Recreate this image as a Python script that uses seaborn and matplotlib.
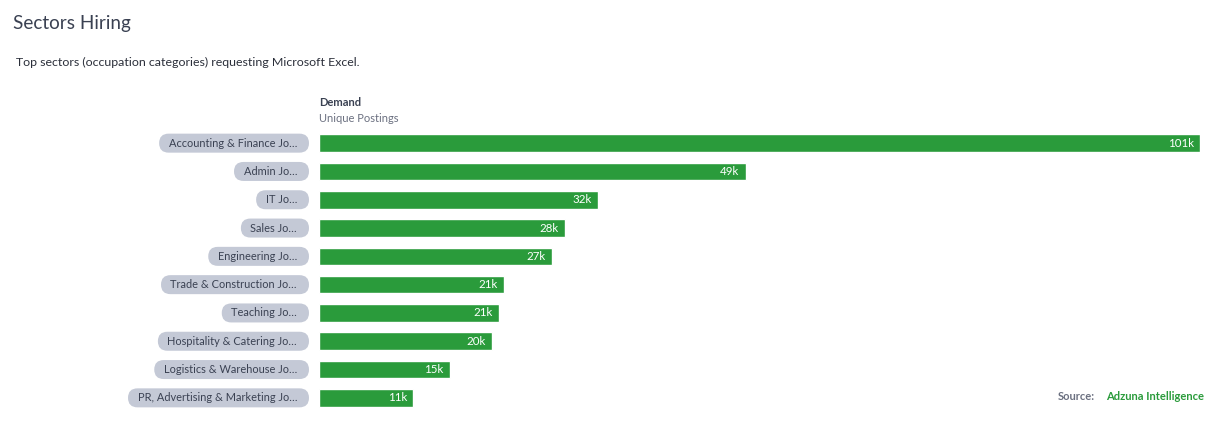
import numpy as np
import pandas as pd
import matplotlib
matplotlib.use('Agg')
import matplotlib.pyplot as plt
import matplotlib.transforms as mtransforms
from matplotlib.patches import FancyBboxPatch
import seaborn as sns

# Data (thousands of unique postings)
sectors = [
    'Accounting & Finance Jo\u2026',
    'Admin Jo\u2026',
    'IT Jo\u2026',
    'Sales Jo\u2026',
    'Engineering Jo\u2026',
    'Trade & Construction Jo\u2026',
    'Teaching Jo\u2026',
    'Hospitality & Catering Jo\u2026',
    'Logistics & Warehouse Jo\u2026',
    'PR, Advertising & Marketing Jo\u2026',
]
postings_k = [101.0, 48.9, 32.0, 28.2, 26.7, 21.2, 20.6, 19.8, 15.0, 10.8]
value_labels = ['101k', '49k', '32k', '28k', '27k', '21k', '21k', '20k', '15k', '11k']

df = pd.DataFrame({'sector': sectors, 'postings': postings_k})

GREEN = '#2a9b3b'
PILL = '#c4c9d6'
DARK = '#3a4152'
GREY = '#6b7080'

sns.set_style('white')
plt.rcParams['font.family'] = ['Lato', 'DejaVu Sans']

fig = plt.figure(figsize=(12.15, 4.3), dpi=100)
W, H = 1215, 430
ax = fig.add_axes([319 / W, 18 / H, (1200 - 319) / W, (301 - 18) / H])
ax.set_facecolor('none')

sns.barplot(data=df, x='postings', y='sector', orient='h', color=GREEN,
            width=0.62, saturation=1, ax=ax)
ax.set_xlim(0, 101)
ax.set_ylim(len(sectors) - 0.5, -0.5)
ax.set_xlabel('')
ax.set_ylabel('')
ax.set_xticks([])
ax.set_yticks([])
sns.despine(ax=ax, left=True, bottom=True)

# value labels inside bar ends
for i, (v, lab) in enumerate(zip(postings_k, value_labels)):
    ax.annotate(lab, (v, i), xytext=(-4.5, 0), textcoords='offset points',
                ha='right', va='center', color='white', fontsize=8.3)

# category pills left of the bars
shift = mtransforms.ScaledTranslation(-22 / 100, 0, fig.dpi_scale_trans)
label_tr = ax.get_yaxis_transform() + shift
texts = []
for i, name in enumerate(sectors):
    t = ax.text(0, i, name, transform=label_tr, ha='right', va='center',
                fontsize=7.9, color=DARK, clip_on=False, zorder=5)
    texts.append(t)

fig.canvas.draw()
renderer = fig.canvas.get_renderer()
for i, t in enumerate(texts):
    bb = t.get_window_extent(renderer)
    yc = ax.transData.transform((0, i))[1]
    x0, x1 = bb.x0 - 9.5, bb.x1 + 12
    h = 19
    pill = FancyBboxPatch((x0, yc - h / 2), x1 - x0, h,
                          boxstyle='round,pad=0,rounding_size=%f' % (h / 2),
                          transform=mtransforms.IdentityTransform(),
                          facecolor=PILL, edgecolor='none', zorder=-1)
    fig.add_artist(pill)

# headings
fig.text(13 / W, 1 - 24 / H, 'Sectors Hiring', fontsize=13.6, color=DARK,
         ha='left', va='center')
fig.text(16 / W, 1 - 62 / H, 'Top sectors (occupation categories) requesting Microsoft Excel.',
         fontsize=8.9, color='#2b2f3a', ha='left', va='center')
fig.text(319 / W, 1 - 103 / H, 'Demand', fontsize=8, fontweight='bold',
         color=DARK, ha='left', va='center')
fig.text(319 / W, 1 - 118 / H, 'Unique Postings', fontsize=8, color=GREY,
         ha='left', va='center')

# source
fig.text(1095 / W, 1 - 397 / H, 'Source:', fontsize=8, color=GREY,
         fontweight='bold', ha='right', va='center')
fig.text(1106 / W, 1 - 397 / H, 'Adzuna Intelligence', fontsize=8,
         color=GREEN, fontweight='bold', ha='left', va='center')

fig.savefig('out.png', dpi=100, facecolor='white')
